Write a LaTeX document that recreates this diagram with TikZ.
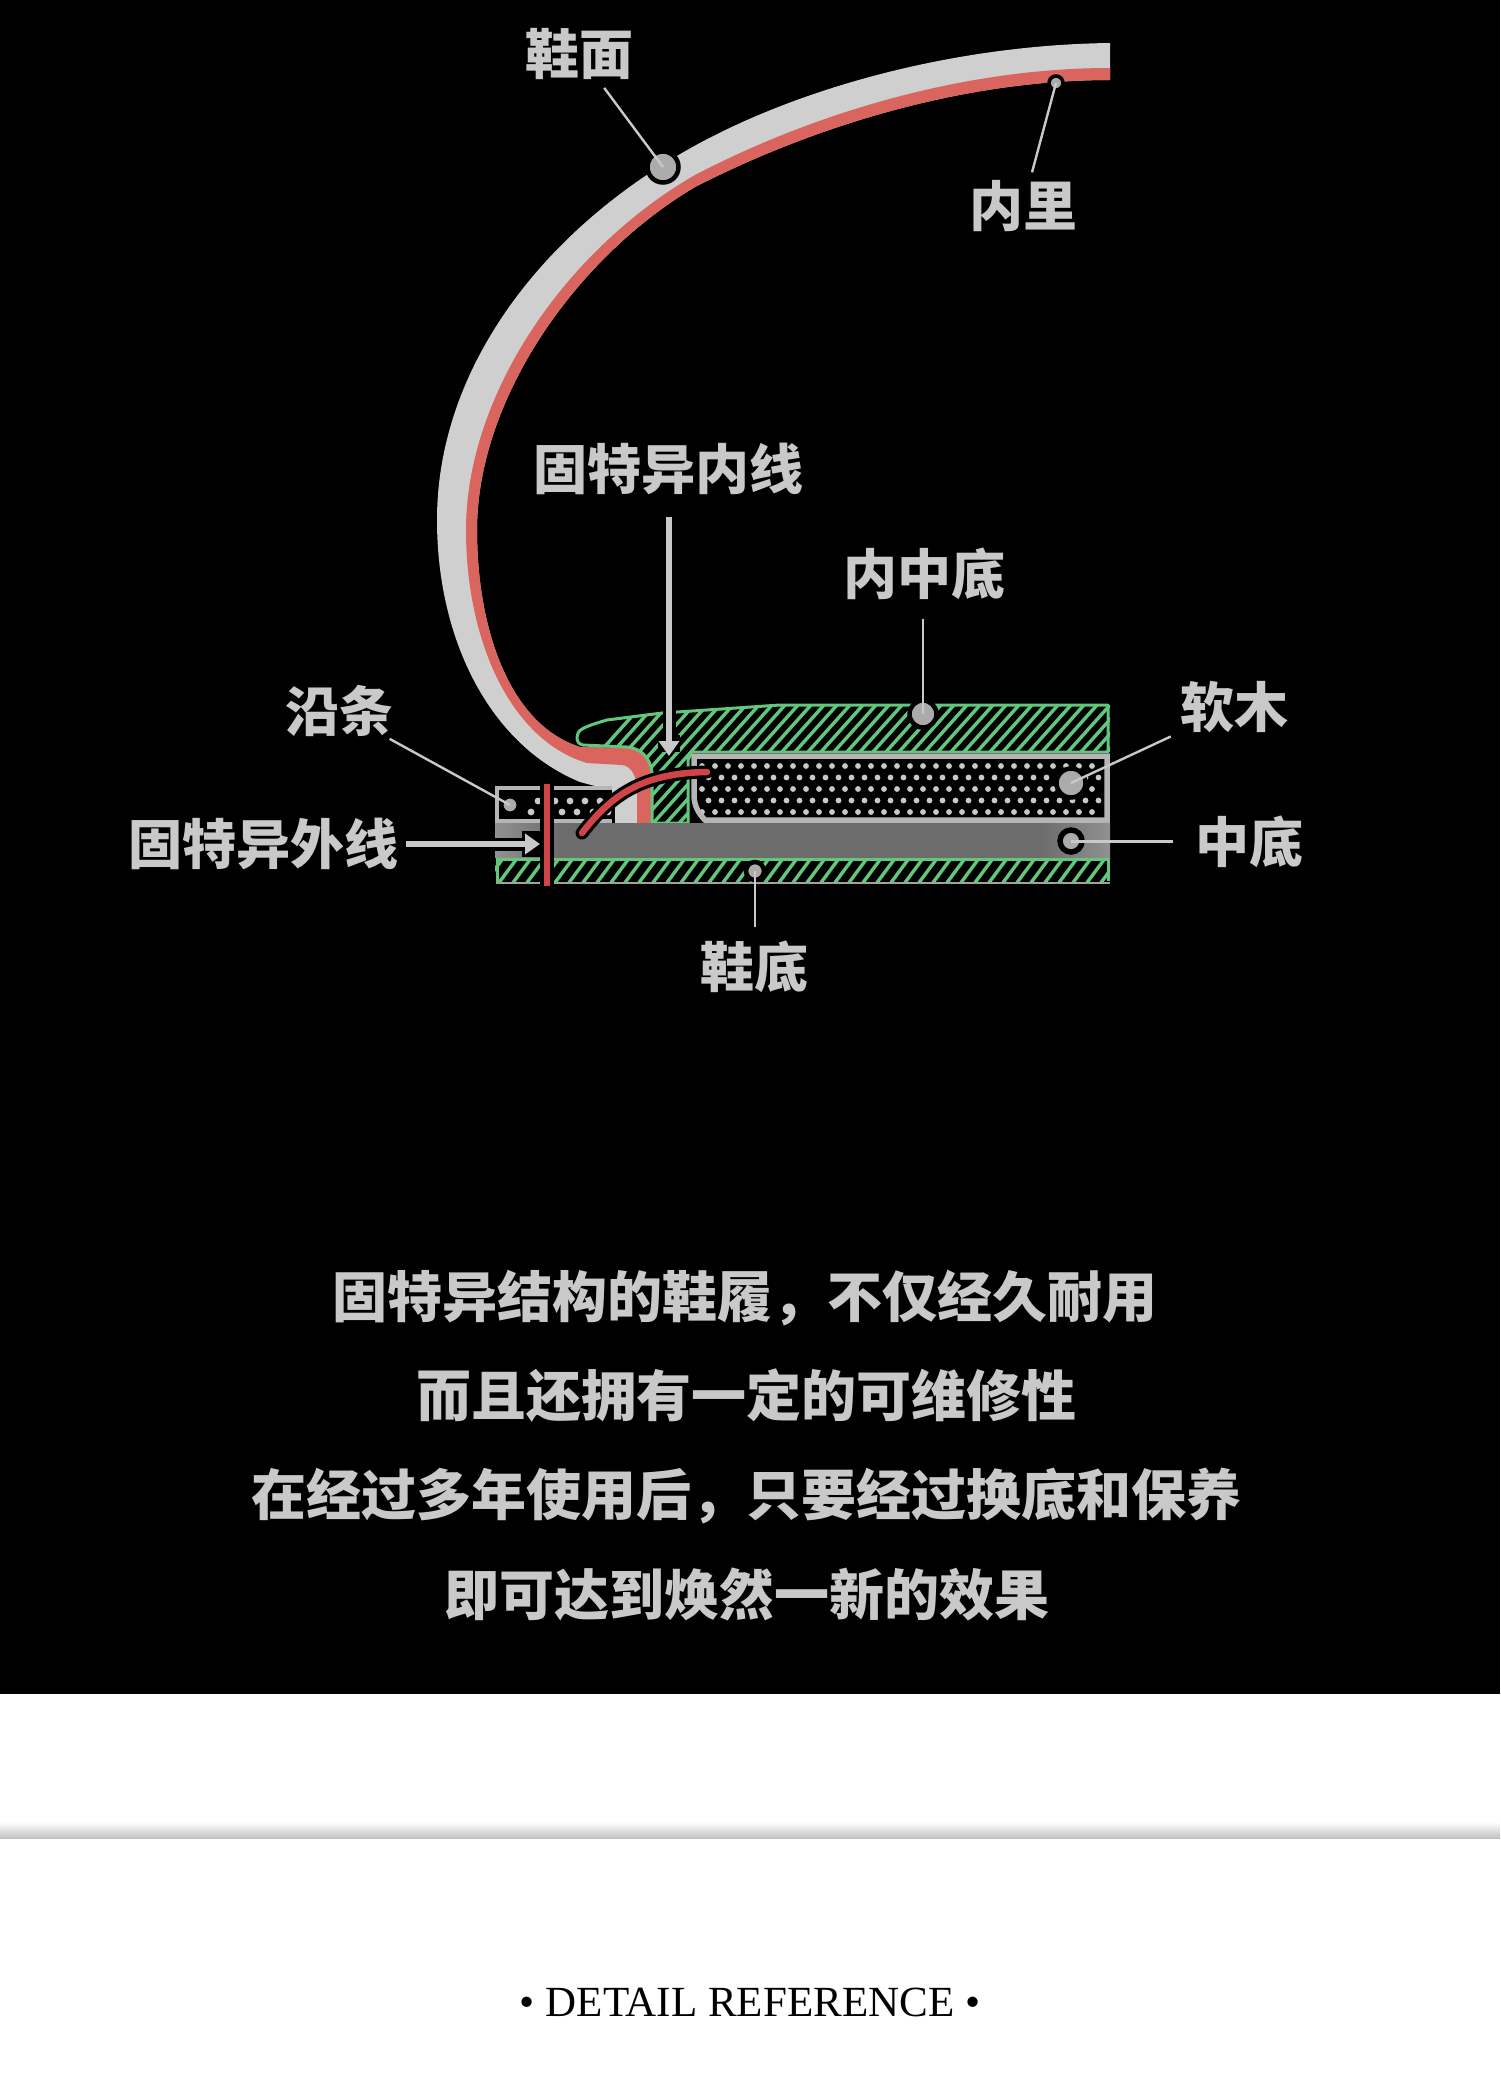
\documentclass[tikz,border=0pt]{standalone}
\usepackage{fontspec}
\setmainfont{Liberation Serif}
\newfontfamily\cjk{Noto Sans CJK SC}
\usetikzlibrary{arrows.meta}
\definecolor{uppergrey}{HTML}{CFCFCF}
\definecolor{linered}{HTML}{D9655E}
\definecolor{stitchred}{HTML}{CF4547}
\definecolor{hatchgreen}{HTML}{62C67C}
\definecolor{midgrey}{HTML}{6C6C6C}
\definecolor{inkgrey}{HTML}{C9C9C9}
\tikzset{
  tag/.style={font=\cjk\bfseries\fontsize{54}{60}\selectfont, text=inkgrey, inner sep=0pt},
  capline/.style={font=\cjk\bfseries\fontsize{55}{62}\selectfont, text=inkgrey, inner sep=0pt},
  callout/.style={circle, fill=inkgrey!85!black, draw=black, line width=4.5pt, inner sep=0pt},
  leader/.style={draw=inkgrey, line width=2.4pt},
  hatchline/.style={draw=hatchgreen, line width=3.4pt},
  halo/.style={draw=black, line width=13pt},
  pointer/.style={draw=inkgrey, line width=5.5pt, -{Triangle[width=20pt,length=15pt]}},
}
\begin{document}
\begin{tikzpicture}[x=1pt, y=-1pt]
  \useasboundingbox (0,0) rectangle (1500,2085);

  % Panels
  \fill[white] (0,0) rectangle (1500,2085);
  \fill[black] (0,0) rectangle (1500,1694);
  \shade[top color=white, bottom color=black!24] (0,1822) rectangle (1500,1838);

  % Shoe upper
  \fill[uppergrey] (1110,43) .. controls (950,45) and (790,90) .. (682,153)
    .. controls (540,235) and (437,370) .. (437,520)
    .. controls (437,640) and (490,745) .. (580,782)
    -- (606,789) -- (615,797) -- (615,823) -- (652,823) -- (652,775)
    .. controls (650,760) and (642,748) .. (627,748) -- (580,747)
    .. controls (510,725) and (477,630) .. (477,530)
    .. controls (477,400) and (575,258) .. (695,187)
    .. controls (810,128) and (960,80) .. (1110,80) -- cycle;

  % Lining
  \fill[linered] (1110,68) .. controls (960,68) and (810,115) .. (695,175)
    .. controls (565,250) and (466,395) .. (466,530)
    .. controls (466,640) and (510,740) .. (587,763)
    -- (622,765) .. controls (632,766) and (637,778) .. (637,790)
    -- (637,823) -- (652,823) -- (652,775)
    .. controls (650,760) and (642,748) .. (627,748) -- (580,747)
    .. controls (510,725) and (477,630) .. (477,530)
    .. controls (477,400) and (575,258) .. (695,187)
    .. controls (810,128) and (960,80) .. (1110,80) -- cycle;

  % Insole
  \begin{scope}
    \clip (577,737) .. controls (577,730) and (583,727) .. (607,720) -- (662,713) -- (707,710) -- (780,705)
      -- (1110,705) -- (1110,752) -- (692,752) -- (688,760) -- (688,823) -- (652,823) -- (652,772)
      .. controls (650,757) and (640,748) .. (627,747) -- (583,745) .. controls (578,744) and (577,741) .. (577,737);
    \fill[black] (570,700) rectangle (1115,830);
    \foreach \hx in {530,543,...,1120}
      \draw[hatchline] (\hx,830) -- ++(112,-125);
  \end{scope}
  \draw[hatchgreen, line width=3pt, line join=round] (577,737) .. controls (577,730) and (583,727) .. (607,720)
    -- (662,713) -- (707,710) -- (780,705) -- (1108,705) -- (1108,752) -- (692,752) -- (688,760) -- (688,823)
    -- (652,823) -- (652,772) .. controls (650,757) and (640,748) .. (627,747) -- (583,745)
    .. controls (578,744) and (577,741) .. (577,737);

  % Cork filler
  \fill[black] (692,753) -- (1110,753) -- (1110,823) -- (703,823) .. controls (695,815) and (692,805) .. (692,795) -- cycle;
  \foreach \row/\shift in {766/0, 777.5/6.5, 789/0, 800.5/6.5, 812/0}
    \foreach \col in {702,715,...,1095}
      \fill[inkgrey] (\col+\shift,\row) circle (2.9pt);
  \draw[inkgrey!90!black, line width=5.5pt] (694,756) -- (1107,756) -- (1107,820) -- (705,820)
    .. controls (698,813) and (694,805) .. (694,795) -- cycle;

  % Welt
  \fill[black] (495,787) rectangle (612,822);
  \foreach \dx/\dy in {538/801, 555/801, 570/801, 585/801, 600/801, 531/812, 562/812, 577/812, 593/812, 608/812}
    \fill[inkgrey] (\dx,\dy) circle (3.4pt);
  \draw[inkgrey!90!black, line width=4pt] (612,788) -- (497,788) -- (497,821) -- (612,821);

  % Midsole
  \fill[midgrey] (495,823) rectangle (1110,858);
  \shade[left color=midgrey!75!white, right color=midgrey] (495,823) rectangle (560,858);
  \shade[left color=midgrey, right color=midgrey!75!white] (1040,823) rectangle (1110,858);

  % Outsole
  \begin{scope}
    \clip (495,858) rectangle (1110,883);
    \fill[black] (495,858) rectangle (1110,883);
    \foreach \hx in {470,484,...,1120}
      \draw[hatchline] (\hx,884) -- ++(20,-27);
  \end{scope}
  \draw[hatchgreen, line width=3pt] (497,884) -- (497,859) -- (1108,859) -- (1108,881);
  \draw[inkgrey!80!black, line width=2.5pt] (496,883) -- (1110,883);

  % Labels
  \node[tag] (lblUpper) at (579,54) {鞋面};
  \node[tag] (lblLining) at (1023,206) {内里};
  \node[tag] (lblInner) at (668,469) {固特异内线};
  \node[tag] (lblInsole) at (924,574) {内中底};
  \node[tag] (lblCork) at (1234,707) {软木};
  \node[tag] (lblWelt) at (339,711) {沿条};
  \node[tag] (lblOuter) at (263,844) {固特异外线};
  \node[tag] (lblMid) at (1249,842) {中底};
  \node[tag] (lblSole) at (754,967) {鞋底};

  % Stitches
  \coordinate (tipInner) at (669,756);
  \coordinate (tipOuter) at (540,844);
  \coordinate (topStitch) at (547,784);
  \coordinate (endStitch) at (547,886);
  \draw[halo] (669,695) -- (669,735);
  \draw[halo, line width=22pt] (669,735) -- (669,752);
  \draw[halo] (495,844) -- (522,844);
  \draw[halo, line width=26pt] (522,844) -- (540,844);
  \draw[draw=black, line width=14pt] (topStitch) -- (endStitch);
  \draw[draw=black, line width=13pt, line cap=round] (582,833) .. controls (610,797) and (640,773) .. (707,772);
  \draw[stitchred, line width=6pt] (topStitch) -- (endStitch);
  \draw[stitchred, line width=6.5pt, line cap=round] (582,833) .. controls (610,797) and (640,773) .. (707,772);
  \draw[pointer, shorten <=22pt] (lblInner.south -| tipInner) -- (tipInner);
  \draw[pointer, shorten <=8pt] (lblOuter.east |- tipOuter) -- (tipOuter);

  % Callouts
  \node[callout, minimum size=31pt] (dotUpper) at (663,167) {};
  \node[callout, minimum size=14pt, line width=3.5pt] (dotLining) at (1056,83) {};
  \node[callout, minimum size=27pt] (dotInsole) at (923,714) {};
  \node[callout, minimum size=29pt] (dotCork) at (1071,783) {};
  \node[callout, minimum size=22pt, line width=5.5pt] (dotMid) at (1071,841) {};
  \node[callout, minimum size=18pt] (dotSole) at (755,871) {};
  \node[callout, minimum size=16pt, line width=3pt] (dotWelt) at (510,805) {};

  \draw[leader, shorten <=10pt] (lblUpper) -- (dotUpper.center);
  \draw[leader, shorten <=8pt] (lblLining) -- (dotLining.center);
  \draw[leader, shorten <=19pt] (lblInsole.south -| dotInsole) -- (dotInsole.center);
  \draw[leader, shorten <=10pt] (lblCork) -- (dotCork.center);
  \draw[leader, shorten <=4pt] (lblWelt) -- (dotWelt.center);
  \draw[leader, shorten <=22pt, line width=3pt] (lblMid.west |- dotMid) -- (dotMid.center);
  \draw[leader, shorten <=14pt] (lblSole.north -| dotSole) -- (dotSole.center);

  % Caption
  \node[capline] (capOne) at (745,1298) {固特异结构的鞋履，不仅经久耐用};
  \node[capline] (capTwo) at (746,1396) {而且还拥有一定的可维修性};
  \node[capline] (capThree) at (746,1496) {在经过多年使用后，只要经过换底和保养};
  \node[capline] (capFour) at (747,1594) {即可达到焕然一新的效果};

  % Footer
  \node[font=\fontsize{43}{48}\selectfont, inner sep=0pt] (footRef) at (750,2002) {• DETAIL REFERENCE •};
\end{tikzpicture}
\end{document}
